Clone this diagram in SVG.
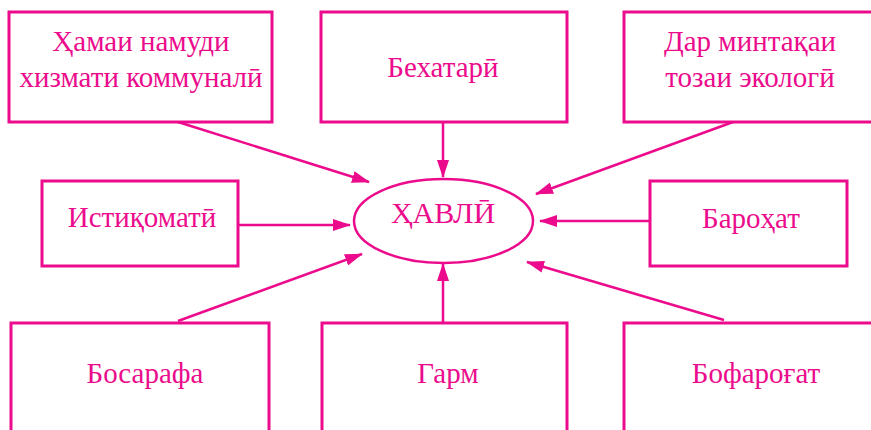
<svg xmlns="http://www.w3.org/2000/svg" width="871" height="430" viewBox="0 0 871 430">
<defs>
<marker id="ah" viewBox="0 0 18 12" refX="17" refY="6" markerWidth="18" markerHeight="12" markerUnits="userSpaceOnUse" orient="auto">
<path d="M0,0 L18,6 L0,12 Z" fill="#eb0b8c"/>
</marker>
<style>
.box{fill:#fff;stroke:#eb0b8c;stroke-width:3}
.t{font-family:"Liberation Serif","Times New Roman",serif;font-size:29px;fill:#eb0b8c;text-anchor:middle}
.c{stroke:#eb0b8c;stroke-width:2.5;fill:none;marker-end:url(#ah)}
</style>
</defs>
<rect width="871" height="430" fill="#fff"/>
<g id="connectors">
<line class="c" x1="178" y1="122" x2="369" y2="182"/>
<line class="c" x1="443" y1="122" x2="443" y2="177"/>
<line class="c" x1="733" y1="122" x2="536" y2="194"/>
<line class="c" x1="238" y1="225" x2="350" y2="225"/>
<line class="c" x1="650" y1="221" x2="540" y2="221"/>
<line class="c" x1="178" y1="321" x2="362" y2="254"/>
<line class="c" x1="443" y1="322" x2="443" y2="264"/>
<line class="c" x1="724" y1="320" x2="527" y2="262"/>
</g>
<g id="n1"><rect class="box" x="9" y="12" width="263" height="110"/><text class="t" x="141" y="51">Ҳамаи намуди</text><text class="t" x="141" y="87">хизмати коммуналӣ</text></g>
<g id="n2"><rect class="box" x="321" y="12" width="246" height="110"/><text class="t" x="443" y="77">Бехатарӣ</text></g>
<g id="n3"><rect class="box" x="624" y="12" width="260" height="110"/><text class="t" x="750" y="51">Дар минтақаи</text><text class="t" x="750" y="87">тозаи экологӣ</text></g>
<g id="n4"><rect class="box" x="42" y="181" width="196" height="85"/><text class="t" x="142" y="227">Истиқоматӣ</text></g>
<g id="center"><ellipse cx="443.5" cy="221" rx="89.5" ry="42" fill="#fff" stroke="#eb0b8c" stroke-width="2.5"/><text class="t" x="443" y="223" style="font-size:30px">ҲАВЛӢ</text></g>
<g id="n5"><rect class="box" x="650" y="181" width="197" height="85"/><text class="t" x="751" y="228">Бароҳат</text></g>
<g id="n6"><rect class="box" x="11" y="323" width="258" height="120"/><text class="t" x="145" y="383">Босарафа</text></g>
<g id="n7"><rect class="box" x="322" y="323" width="245" height="120"/><text class="t" x="448" y="383">Гарм</text></g>
<g id="n8"><rect class="box" x="624" y="323" width="260" height="120"/><text class="t" x="756" y="383">Бофароғат</text></g>
</svg>
